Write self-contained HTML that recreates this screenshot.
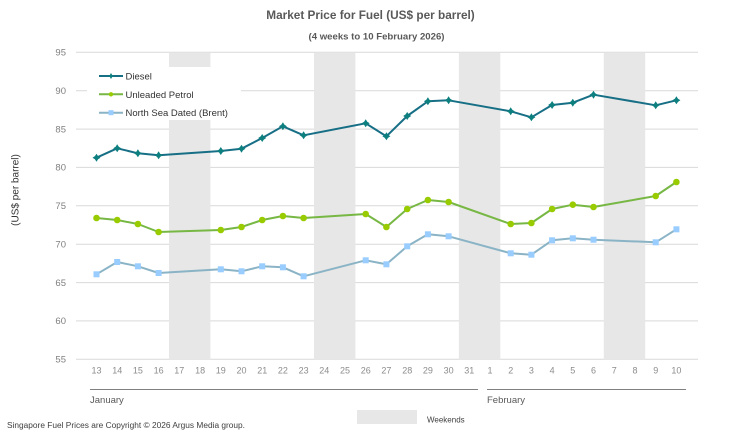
<!DOCTYPE html>
<html>
<head>
<meta charset="utf-8">
<style>
  html,body{margin:0;padding:0;background:#fff;}
  svg{display:block;}
  text{font-family:"Liberation Sans",Arial,sans-serif;}
</style>
</head>
<body>
<svg width="746" height="438" viewBox="0 0 746 438" xmlns="http://www.w3.org/2000/svg">
  <rect width="746" height="438" fill="#fff"/>
  <!-- Titles -->
  <text x="370.5" y="19" text-anchor="middle" font-size="11.8" font-weight="bold" fill="#595959">Market Price for Fuel (US$ per barrel)</text>
  <text x="376.5" y="39.5" text-anchor="middle" font-size="9.6" font-weight="bold" fill="#595959">(4 weeks to 10 February 2026)</text>

  <!-- Gridlines -->
  <g stroke="#d9d9d9" stroke-width="1">
    <line x1="76" y1="52.3" x2="698" y2="52.3"/>
    <line x1="76" y1="90.7" x2="698" y2="90.7"/>
    <line x1="76" y1="129.1" x2="698" y2="129.1"/>
    <line x1="76" y1="167.4" x2="698" y2="167.4"/>
    <line x1="76" y1="205.8" x2="698" y2="205.8"/>
    <line x1="76" y1="244.2" x2="698" y2="244.2"/>
    <line x1="76" y1="282.6" x2="698" y2="282.6"/>
    <line x1="76" y1="320.9" x2="698" y2="320.9"/>
    <line x1="76" y1="359.3" x2="698" y2="359.3"/>
  </g>

  <!-- Weekend bands -->
  <g fill="#e7e7e7">
    <rect x="169" y="52.3" width="41.4" height="307"/>
    <rect x="314" y="52.3" width="41.4" height="307"/>
    <rect x="458.9" y="52.3" width="41.4" height="307"/>
    <rect x="603.8" y="52.3" width="41.4" height="307"/>
  </g>

  <!-- Y tick labels -->
  <g font-size="9.5" fill="#7f7f7f" text-anchor="end">
    <text x="66" y="55.6">95</text>
    <text x="66" y="94">90</text>
    <text x="66" y="132.4">85</text>
    <text x="66" y="170.7">80</text>
    <text x="66" y="209.1">75</text>
    <text x="66" y="247.5">70</text>
    <text x="66" y="285.9">65</text>
    <text x="66" y="324.2">60</text>
    <text x="66" y="362.6">55</text>
  </g>

  <!-- Y axis title -->
  <text transform="translate(18.5,190) rotate(-90)" text-anchor="middle" font-size="10" fill="#333">(US$ per barrel)</text>

  <!-- X tick labels -->
  <g font-size="9" fill="#8c8c8c" text-anchor="middle">
    <text x="96.5" y="373.5">13</text>
    <text x="117.2" y="373.5">14</text>
    <text x="137.9" y="373.5">15</text>
    <text x="158.6" y="373.5">16</text>
    <text x="179.3" y="373.5">17</text>
    <text x="200.1" y="373.5">18</text>
    <text x="220.8" y="373.5">19</text>
    <text x="241.5" y="373.5">20</text>
    <text x="262.2" y="373.5">21</text>
    <text x="282.9" y="373.5">22</text>
    <text x="303.6" y="373.5">23</text>
    <text x="324.3" y="373.5">24</text>
    <text x="345.0" y="373.5">25</text>
    <text x="365.7" y="373.5">26</text>
    <text x="386.4" y="373.5">27</text>
    <text x="407.2" y="373.5">28</text>
    <text x="427.9" y="373.5">29</text>
    <text x="448.6" y="373.5">30</text>
    <text x="469.3" y="373.5">31</text>
    <text x="490.0" y="373.5">1</text>
    <text x="510.7" y="373.5">2</text>
    <text x="531.4" y="373.5">3</text>
    <text x="552.1" y="373.5">4</text>
    <text x="572.8" y="373.5">5</text>
    <text x="593.5" y="373.5">6</text>
    <text x="614.3" y="373.5">7</text>
    <text x="635.0" y="373.5">8</text>
    <text x="655.7" y="373.5">9</text>
    <text x="676.4" y="373.5">10</text>
  </g>

  <!-- Month lines -->
  <g stroke="#808080" stroke-width="1">
    <line x1="90" y1="389.5" x2="478" y2="389.5"/>
    <line x1="487" y1="389.5" x2="686" y2="389.5"/>
  </g>
  <text x="90" y="403" font-size="9.5" fill="#595959">January</text>
  <text x="487" y="403" font-size="9.5" fill="#595959">February</text>

  <!-- Legend box -->
  <rect x="87" y="67" width="154" height="53" fill="#fff"/>

  <!-- Series: Brent -->
  <polyline fill="none" stroke="#8ab4c6" stroke-width="2" stroke-linejoin="round"
    points="96.5,274.3 117.2,262 137.9,266.3 158.6,273 220.8,269.3 241.5,271.3 262.2,266.3 282.9,267.3 303.6,276.3 365.7,260.3 386.4,264.3 407.2,246.3 427.9,234.3 448.6,236.3 510.7,253.3 531.4,254.7 552.1,240.3 572.8,238.3 593.5,239.7 655.7,242.3 676.4,229.3"/>
  <g fill="#99ccff">
    <rect x="93.5" y="271.3" width="6" height="6"/>
    <rect x="114.2" y="259" width="6" height="6"/>
    <rect x="134.9" y="263.3" width="6" height="6"/>
    <rect x="155.6" y="270" width="6" height="6"/>
    <rect x="217.8" y="266.3" width="6" height="6"/>
    <rect x="238.5" y="268.3" width="6" height="6"/>
    <rect x="259.2" y="263.3" width="6" height="6"/>
    <rect x="279.9" y="264.3" width="6" height="6"/>
    <rect x="300.6" y="273.3" width="6" height="6"/>
    <rect x="362.7" y="257.3" width="6" height="6"/>
    <rect x="383.4" y="261.3" width="6" height="6"/>
    <rect x="404.2" y="243.3" width="6" height="6"/>
    <rect x="424.9" y="231.3" width="6" height="6"/>
    <rect x="445.6" y="233.3" width="6" height="6"/>
    <rect x="507.7" y="250.3" width="6" height="6"/>
    <rect x="528.4" y="251.7" width="6" height="6"/>
    <rect x="549.1" y="237.3" width="6" height="6"/>
    <rect x="569.8" y="235.3" width="6" height="6"/>
    <rect x="590.5" y="236.7" width="6" height="6"/>
    <rect x="652.7" y="239.3" width="6" height="6"/>
    <rect x="673.4" y="226.3" width="6" height="6"/>
  </g>

  <!-- Series: Unleaded Petrol -->
  <polyline fill="none" stroke="#77b744" stroke-width="2" stroke-linejoin="round"
    points="96.5,218 117.2,220 137.9,224 158.6,232 220.8,230 241.5,227 262.2,220 282.9,216 303.6,218 365.7,214 386.4,227 407.2,209 427.9,200 448.6,202 510.7,224 531.4,223 552.1,209 572.8,204.7 593.5,207 655.7,196 676.4,182"/>
  <g fill="#99cc00">
    <circle cx="96.5" cy="218" r="3.3"/>
    <circle cx="117.2" cy="220" r="3.3"/>
    <circle cx="137.9" cy="224" r="3.3"/>
    <circle cx="158.6" cy="232" r="3.3"/>
    <circle cx="220.8" cy="230" r="3.3"/>
    <circle cx="241.5" cy="227" r="3.3"/>
    <circle cx="262.2" cy="220" r="3.3"/>
    <circle cx="282.9" cy="216" r="3.3"/>
    <circle cx="303.6" cy="218" r="3.3"/>
    <circle cx="365.7" cy="214" r="3.3"/>
    <circle cx="386.4" cy="227" r="3.3"/>
    <circle cx="407.2" cy="209" r="3.3"/>
    <circle cx="427.9" cy="200" r="3.3"/>
    <circle cx="448.6" cy="202" r="3.3"/>
    <circle cx="510.7" cy="224" r="3.3"/>
    <circle cx="531.4" cy="223" r="3.3"/>
    <circle cx="552.1" cy="209" r="3.3"/>
    <circle cx="572.8" cy="204.7" r="3.3"/>
    <circle cx="593.5" cy="207" r="3.3"/>
    <circle cx="655.7" cy="196" r="3.3"/>
    <circle cx="676.4" cy="182" r="3.3"/>
  </g>

  <!-- Series: Diesel -->
  <defs>
    <path id="star" d="M0,-4 L1.6,-1.6 L4,0 L1.6,1.6 L0,4 L-1.6,1.6 L-4,0 L-1.6,-1.6 Z" fill="#0d7f7f"/>
    <path id="starS" d="M0,-3 L1.1,-1.1 L3,0 L1.1,1.1 L0,3 L-1.1,1.1 L-3,0 L-1.1,-1.1 Z" fill="#0d7f7f"/>
  </defs>
  <polyline fill="none" stroke="#176f86" stroke-width="2" stroke-linejoin="round"
    points="96.5,157.7 117.2,148.3 137.9,153.3 158.6,155.3 220.8,151 241.5,148.7 262.2,138 282.9,126.3 303.6,135.3 365.7,123.3 386.4,136.3 407.2,116 427.9,101.3 448.6,100.3 510.7,111.3 531.4,117.3 552.1,105 572.8,102.7 593.5,94.7 655.7,105.3 676.4,100.3"/>
  <use href="#star" x="96.5" y="157.7"/>
  <use href="#star" x="117.2" y="148.3"/>
  <use href="#star" x="137.9" y="153.3"/>
  <use href="#star" x="158.6" y="155.3"/>
  <use href="#star" x="220.8" y="151"/>
  <use href="#star" x="241.5" y="148.7"/>
  <use href="#star" x="262.2" y="138"/>
  <use href="#star" x="282.9" y="126.3"/>
  <use href="#star" x="303.6" y="135.3"/>
  <use href="#star" x="365.7" y="123.3"/>
  <use href="#star" x="386.4" y="136.3"/>
  <use href="#star" x="407.2" y="116"/>
  <use href="#star" x="427.9" y="101.3"/>
  <use href="#star" x="448.6" y="100.3"/>
  <use href="#star" x="510.7" y="111.3"/>
  <use href="#star" x="531.4" y="117.3"/>
  <use href="#star" x="552.1" y="105"/>
  <use href="#star" x="572.8" y="102.7"/>
  <use href="#star" x="593.5" y="94.7"/>
  <use href="#star" x="655.7" y="105.3"/>
  <use href="#star" x="676.4" y="100.3"/>

  <!-- Legend -->
  <line x1="99" y1="76" x2="123" y2="76" stroke="#176f86" stroke-width="2"/>
  <use href="#starS" x="111" y="76"/>
  <line x1="99" y1="94.3" x2="123" y2="94.3" stroke="#77b744" stroke-width="2"/>
  <circle cx="111" cy="94.3" r="2.2" fill="#99cc00"/>
  <line x1="99" y1="112.7" x2="123" y2="112.7" stroke="#8ab4c6" stroke-width="2"/>
  <rect x="108.5" y="110.2" width="5" height="5" fill="#99ccff"/>
  <g font-size="9.5" fill="#333">
    <text x="125.5" y="79.5">Diesel</text>
    <text x="125.5" y="97.8">Unleaded Petrol</text>
    <text x="125.5" y="116.2">North Sea Dated (Brent)</text>
  </g>

  <!-- Footer -->
  <text x="7" y="428" font-size="7.8" fill="#404040" textLength="238" lengthAdjust="spacingAndGlyphs">Singapore  Fuel Prices are Copyright © 2026 Argus Media group.</text>
  <rect x="357" y="410" width="60" height="14" fill="#e7e7e7"/>
  <text x="427" y="422.5" font-size="8" fill="#404040">Weekends</text>
</svg>
</body>
</html>
